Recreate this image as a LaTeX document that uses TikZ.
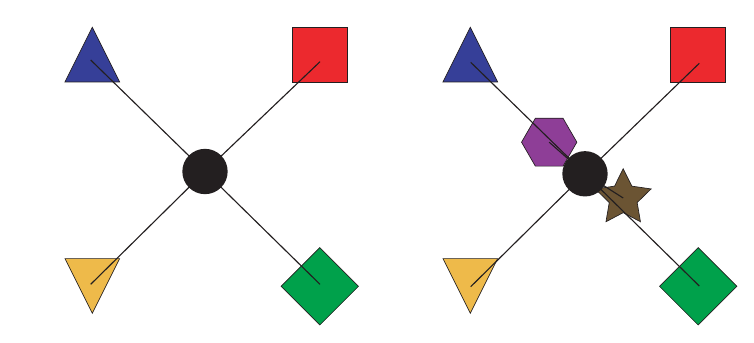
\documentclass[tikz,border=0pt]{standalone}
\usetikzlibrary{shapes.geometric}

\definecolor{tblue}{RGB}{54,63,152}
\definecolor{tred}{RGB}{236,41,46}
\definecolor{tyellow}{RGB}{238,186,74}
\definecolor{tgreen}{RGB}{0,161,75}
\definecolor{tpurple}{RGB}{142,62,151}
\definecolor{tbrown}{RGB}{107,84,51}
\definecolor{tblack}{RGB}{35,31,32}

\begin{document}
\begin{tikzpicture}[x=0.75pt, y=-0.75pt,
    leaf/.style={draw=tblack, line width=0.5pt, inner sep=0pt, outer sep=0pt},
    uptri/.style={leaf, isosceles triangle, isosceles triangle stretches, shape border rotate=90, minimum width=41pt, minimum height=41pt, fill=tblue},
    downtri/.style={leaf, isosceles triangle, isosceles triangle stretches, shape border rotate=270, minimum width=41pt, minimum height=41pt, fill=tyellow},
    sq/.style={leaf, rectangle, minimum width=41.25pt, minimum height=41pt, fill=tred},
    dia/.style={leaf, diamond, minimum width=58pt, minimum height=58pt, fill=tgreen},
    hexa/.style={leaf, regular polygon, regular polygon sides=6, minimum size=41.5pt, fill=tpurple},
    starr/.style={leaf, star, star points=5, star point ratio=2.0, minimum size=44pt, fill=tbrown},
    hub/.style={circle, fill=tblack, inner sep=0pt, minimum size=34pt},
    wire/.style={draw=tblack, line width=0.85pt}]

    \useasboundingbox (0,0) rectangle (754,343);

    % linker Stern
    \node[uptri, anchor=apex] (blueA) at (92.3,27.3) {};
    \node[sq] (redA) at (319.8,54.6) {};
    \node[downtri, anchor=apex] (yellowA) at (92.3,313.3) {};
    \node[dia] (greenA) at (319.8,286.3) {};

    \coordinate (hubA) at (205,171.5);
    \coordinate (bA) at (90.7,60);
    \coordinate (rA) at (320,61.7);
    \coordinate (yA) at (90.7,284.3);
    \coordinate (gA) at (320,284.3);

    \draw[wire] (bA) -- (hubA);
    \draw[wire] (rA) -- (hubA);
    \draw[wire] (yA) -- (hubA);
    \draw[wire] (gA) -- (hubA);
    \node[hub] (centerA) at (hubA) {};

    % rechter Stern
    \node[uptri, anchor=apex] (blueB) at (470.3,27.3) {};
    \node[sq] (redB) at (698.2,54.6) {};
    \node[downtri, anchor=apex] (yellowB) at (470.3,313.3) {};
    \node[dia] (greenB) at (698.2,286.3) {};
    \node[hexa] (hexB) at (549.2,142.2) {};
    \node[starr] (starB) at (623.2,198) {};

    \coordinate (hubB) at (585,173.8);
    \coordinate (bB) at (470.7,62.3);
    \coordinate (rB) at (699.3,63.3);
    \coordinate (yB) at (470.7,286.7);
    \coordinate (gB) at (699.3,286);

    \draw[wire] (bB) -- (hubB);
    \draw[wire] (rB) -- (hubB);
    \draw[wire] (yB) -- (hubB);
    \draw[wire] (gB) -- (hubB);
    \draw[wire] (hexB.center) -- (hubB);
    \draw[wire] (starB.center) -- (hubB);
    \node[hub] (centerB) at (hubB) {};

\end{tikzpicture}
\end{document}
